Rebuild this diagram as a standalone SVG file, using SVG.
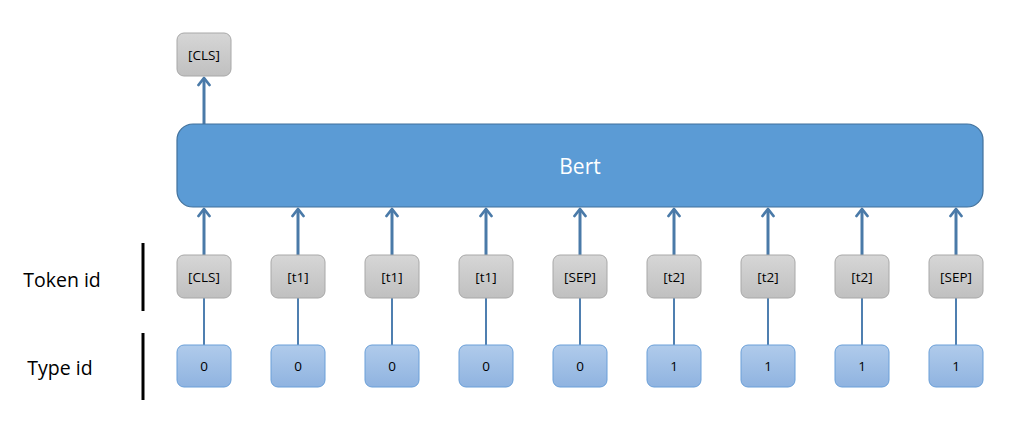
<svg xmlns="http://www.w3.org/2000/svg" width="1036" height="435" viewBox="0 0 1036 435">
<defs>
<linearGradient id="gGray" x1="0" y1="0" x2="0" y2="1"><stop offset="0" stop-color="#d6d6d6"/><stop offset="1" stop-color="#c0c0c0"/></linearGradient>
<linearGradient id="gBlue" x1="0" y1="0" x2="0" y2="1"><stop offset="0" stop-color="#b0cbeb"/><stop offset="1" stop-color="#8fb3e0"/></linearGradient>
<marker id="arr" viewBox="0 0 12 14" refX="10" refY="7" markerWidth="12" markerHeight="14" markerUnits="userSpaceOnUse" orient="auto">
<path d="M3,1.5 L10,7 L3,12.5" fill="none" stroke="#4a7aa8" stroke-width="2.8" stroke-linecap="round" stroke-linejoin="round"/>
</marker>
</defs>
<style>
.tok{fill:url(#gGray);stroke:#a8a8a8;stroke-width:1}
.typ{fill:url(#gBlue);stroke:#6a9fd8;stroke-width:1}
.t{font-family:"Open Sans","Liberation Sans",sans-serif;font-size:13.5px;fill:#000;text-anchor:middle;dominant-baseline:central}
.lbl{font-family:"Open Sans","Liberation Sans",sans-serif;font-size:19.5px;fill:#000;text-anchor:middle;dominant-baseline:central}
.arrow{stroke:#4a7aa8;stroke-width:3;fill:none}
.link{stroke:#4f7fb0;stroke-width:2;fill:none}
</style>
<rect width="1036" height="435" fill="#fff"/>
<g id="labels">
<text class="lbl" x="62" y="279">Token id</text>
<text class="lbl" x="60" y="367">Type id</text>
<line x1="143" y1="243" x2="143" y2="311" stroke="#000" stroke-width="3"/>
<line x1="143" y1="333" x2="143" y2="400" stroke="#000" stroke-width="3"/>
</g>
<g id="connectors">
<line class="arrow" x1="204" y1="124" x2="204" y2="78" marker-end="url(#arr)"/>
<line class="arrow" x1="204" y1="255" x2="204" y2="209" marker-end="url(#arr)"/>
<line class="arrow" x1="298" y1="255" x2="298" y2="209" marker-end="url(#arr)"/>
<line class="arrow" x1="392" y1="255" x2="392" y2="209" marker-end="url(#arr)"/>
<line class="arrow" x1="486" y1="255" x2="486" y2="209" marker-end="url(#arr)"/>
<line class="arrow" x1="580" y1="255" x2="580" y2="209" marker-end="url(#arr)"/>
<line class="arrow" x1="674" y1="255" x2="674" y2="209" marker-end="url(#arr)"/>
<line class="arrow" x1="768" y1="255" x2="768" y2="209" marker-end="url(#arr)"/>
<line class="arrow" x1="862" y1="255" x2="862" y2="209" marker-end="url(#arr)"/>
<line class="arrow" x1="956" y1="255" x2="956" y2="209" marker-end="url(#arr)"/>
<line class="link" x1="204" y1="298" x2="204" y2="345"/>
<line class="link" x1="298" y1="298" x2="298" y2="345"/>
<line class="link" x1="392" y1="298" x2="392" y2="345"/>
<line class="link" x1="486" y1="298" x2="486" y2="345"/>
<line class="link" x1="580" y1="298" x2="580" y2="345"/>
<line class="link" x1="674" y1="298" x2="674" y2="345"/>
<line class="link" x1="768" y1="298" x2="768" y2="345"/>
<line class="link" x1="862" y1="298" x2="862" y2="345"/>
<line class="link" x1="956" y1="298" x2="956" y2="345"/>
</g>
<g id="bert">
<rect x="177" y="124" width="806" height="83" rx="16" fill="#5b9bd5" stroke="#41719c" stroke-width="1.2"/>
<text x="580" y="166" font-family="'Open Sans','Liberation Sans',sans-serif" font-size="21" fill="#fff" text-anchor="middle" dominant-baseline="central">Bert</text>
</g>
<g id="out-cls"><rect class="tok" x="177" y="33" width="54" height="43" rx="7"/><text class="t" x="204" y="54.5">[CLS]</text></g>
<g id="tok1"><rect class="tok" x="177" y="255" width="54" height="43" rx="7"/><text class="t" x="204" y="276.5">[CLS]</text></g>
<g id="tok2"><rect class="tok" x="271" y="255" width="54" height="43" rx="7"/><text class="t" x="298" y="276.5">[t1]</text></g>
<g id="tok3"><rect class="tok" x="365" y="255" width="54" height="43" rx="7"/><text class="t" x="392" y="276.5">[t1]</text></g>
<g id="tok4"><rect class="tok" x="459" y="255" width="54" height="43" rx="7"/><text class="t" x="486" y="276.5">[t1]</text></g>
<g id="tok5"><rect class="tok" x="553" y="255" width="54" height="43" rx="7"/><text class="t" x="580" y="276.5">[SEP]</text></g>
<g id="tok6"><rect class="tok" x="647" y="255" width="54" height="43" rx="7"/><text class="t" x="674" y="276.5">[t2]</text></g>
<g id="tok7"><rect class="tok" x="741" y="255" width="54" height="43" rx="7"/><text class="t" x="768" y="276.5">[t2]</text></g>
<g id="tok8"><rect class="tok" x="835" y="255" width="54" height="43" rx="7"/><text class="t" x="862" y="276.5">[t2]</text></g>
<g id="tok9"><rect class="tok" x="929" y="255" width="54" height="43" rx="7"/><text class="t" x="956" y="276.5">[SEP]</text></g>
<g id="typ1"><rect class="typ" x="177" y="345" width="54" height="42" rx="7"/><text class="t" x="204" y="366">0</text></g>
<g id="typ2"><rect class="typ" x="271" y="345" width="54" height="42" rx="7"/><text class="t" x="298" y="366">0</text></g>
<g id="typ3"><rect class="typ" x="365" y="345" width="54" height="42" rx="7"/><text class="t" x="392" y="366">0</text></g>
<g id="typ4"><rect class="typ" x="459" y="345" width="54" height="42" rx="7"/><text class="t" x="486" y="366">0</text></g>
<g id="typ5"><rect class="typ" x="553" y="345" width="54" height="42" rx="7"/><text class="t" x="580" y="366">0</text></g>
<g id="typ6"><rect class="typ" x="647" y="345" width="54" height="42" rx="7"/><text class="t" x="674" y="366">1</text></g>
<g id="typ7"><rect class="typ" x="741" y="345" width="54" height="42" rx="7"/><text class="t" x="768" y="366">1</text></g>
<g id="typ8"><rect class="typ" x="835" y="345" width="54" height="42" rx="7"/><text class="t" x="862" y="366">1</text></g>
<g id="typ9"><rect class="typ" x="929" y="345" width="54" height="42" rx="7"/><text class="t" x="956" y="366">1</text></g>
</svg>
